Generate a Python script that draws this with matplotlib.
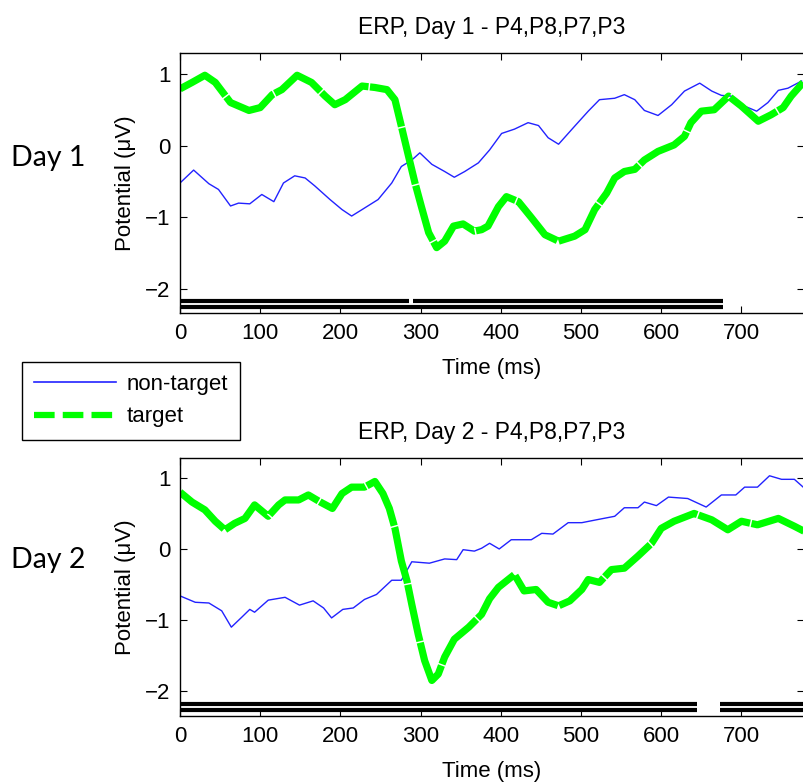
import matplotlib.pyplot as plt
from matplotlib.lines import Line2D

# Day 1 (ms, uV)
t1_target = [0, 15, 31, 44, 63, 86, 100, 115, 127, 146, 164, 181, 193, 206, 227, 243, 258, 268,
             276, 285, 293, 301, 310, 320, 330, 341, 353, 367, 376, 384, 397, 407, 422, 438, 455,
             472, 492, 505, 517, 532, 542, 554, 567, 579, 596, 616, 629, 637, 650, 666, 684, 700,
             721, 737, 752, 762, 777]
v1_target = [0.79, 0.88, 0.98, 0.88, 0.60, 0.49, 0.53, 0.71, 0.78, 0.98, 0.88, 0.69, 0.57, 0.64,
             0.83, 0.81, 0.78, 0.64, 0.27, -0.15, -0.52, -0.85, -1.21, -1.42, -1.33, -1.12, -1.09,
             -1.19, -1.17, -1.12, -0.85, -0.71, -0.78, -1.00, -1.24, -1.33, -1.26, -1.17, -0.89,
             -0.66, -0.45, -0.36, -0.33, -0.20, -0.08, 0.01, 0.13, 0.32, 0.48, 0.50, 0.69, 0.55,
             0.34, 0.43, 0.53, 0.69, 0.88]
t1_nontarget = [0, 17, 36, 48, 63, 73, 87, 102, 117, 129, 143, 156, 168, 187, 202, 214, 227, 247,
                264, 276, 289, 299, 314, 330, 342, 355, 372, 386, 401, 417, 434, 447, 459, 472,
                492, 509, 523, 542, 554, 567, 579, 596, 613, 629, 648, 663, 675, 687, 704, 719,
                733, 746, 758, 775]
v1_nontarget = [-0.52, -0.34, -0.53, -0.61, -0.84, -0.80, -0.81, -0.68, -0.78, -0.52, -0.42, -0.45,
                -0.56, -0.75, -0.89, -0.98, -0.89, -0.75, -0.52, -0.29, -0.20, -0.10, -0.26, -0.36,
                -0.44, -0.36, -0.24, -0.06, 0.17, 0.23, 0.32, 0.28, 0.11, 0.02, 0.27, 0.48, 0.64,
                0.66, 0.71, 0.64, 0.49, 0.42, 0.57, 0.76, 0.87, 0.76, 0.70, 0.69, 0.55, 0.48, 0.60,
                0.77, 0.80, 0.90]

# Day 2
t2_target = [0, 15, 31, 44, 56, 68, 81, 93, 110, 123, 131, 148, 160, 175, 190, 202, 214, 230, 243,
             253, 261, 268, 276, 283, 289, 297, 305, 314, 322, 330, 342, 360, 376, 386, 397, 417,
             429, 444, 459, 472, 486, 501, 509, 523, 538, 554, 571, 588, 600, 616, 641, 663, 683,
             700, 720, 746, 766, 778]
v2_target = [0.80, 0.66, 0.55, 0.39, 0.27, 0.36, 0.43, 0.62, 0.46, 0.62, 0.69, 0.69, 0.76, 0.66,
             0.57, 0.78, 0.87, 0.87, 0.95, 0.78, 0.57, 0.29, -0.17, -0.45, -0.78, -1.20, -1.57,
             -1.85, -1.76, -1.52, -1.27, -1.10, -0.92, -0.70, -0.54, -0.36, -0.59, -0.57, -0.75,
             -0.80, -0.73, -0.57, -0.43, -0.47, -0.29, -0.27, -0.10, 0.08, 0.29, 0.39, 0.50, 0.41,
             0.27, 0.39, 0.34, 0.43, 0.32, 0.25]
t2_nontarget = [0, 19, 36, 52, 64, 77, 87, 93, 110, 131, 149, 166, 179, 189, 203, 216, 230, 245,
                264, 276, 289, 311, 330, 345, 353, 367, 376, 386, 398, 413, 438, 451, 465, 484,
                501, 519, 542, 554, 571, 579, 594, 609, 633, 656, 675, 693, 704, 720, 735, 750,
                766, 777]
v2_nontarget = [-0.66, -0.75, -0.76, -0.87, -1.10, -0.96, -0.85, -0.89, -0.72, -0.68, -0.79, -0.73,
                -0.83, -0.97, -0.85, -0.83, -0.71, -0.64, -0.44, -0.44, -0.18, -0.20, -0.14, -0.15,
                -0.01, -0.03, 0.01, 0.08, 0.00, 0.13, 0.13, 0.22, 0.21, 0.37, 0.37, 0.41, 0.46,
                0.58, 0.58, 0.66, 0.61, 0.73, 0.71, 0.59, 0.76, 0.76, 0.87, 0.87, 1.03, 0.98, 0.98,
                0.87]

# significance bars (ms): two rows under each plot
sig1_row_a = [(0, 285), (291, 677)]
sig1_row_b = [(0, 677)]
sig2_row_a = [(0, 645), (673, 780)]
sig2_row_b = [(0, 645), (673, 780)]

days = ['Day 1', 'Day 2']
titles = ['ERP, Day 1 - P4,P8,P7,P3', 'ERP, Day 2 - P4,P8,P7,P3']

plt.rcParams['font.family'] = ['Liberation Sans', 'DejaVu Sans']
fig = plt.figure(figsize=(8.04, 7.82), dpi=100)

W, H = 804, 782
axes_px = [(53, 313), (458, 716)]   # top, bottom pixel rows
data = [(t1_nontarget, v1_nontarget, t1_target, v1_target, sig1_row_a, sig1_row_b, (-2.33, 1.29)),
        (t2_nontarget, v2_nontarget, t2_target, v2_target, sig2_row_a, sig2_row_b, (-2.35, 1.28))]
day_y = [158, 560]

for i in range(2):
    top, bot = axes_px[i]
    ax = fig.add_axes([180 / W, 1 - bot / H, 1 - 180 / W, (bot - top) / H])
    tn, vn, tt, vt, row_a, row_b, ylim = data[i]
    ax.plot(tn, vn, color='#2222ff', lw=1.0)
    ax.plot(tt, vt, color='#00ff00', lw=5.2, dashes=(8, 0.2))
    for s, e in row_a:
        ax.plot([s, e], [ylim[0] + 0.165, ylim[0] + 0.165], color='black', lw=3.0,
                solid_capstyle='butt')
    for s, e in row_b:
        ax.plot([s, e], [ylim[0] + 0.085, ylim[0] + 0.085], color='black', lw=3.0,
                solid_capstyle='butt')
    ax.set_xlim(0, 778)
    ax.set_ylim(*ylim)
    ax.set_xticks(range(0, 800, 100))
    ax.set_yticks([-2, -1, 0, 1])
    ax.tick_params(direction='in', top=True, right=True, length=5, labelsize=16, pad=7)
    for sp in ax.spines.values():
        sp.set_linewidth(1.0)
    ax.set_xlabel('Time (ms)', fontsize=16, labelpad=10)
    ax.set_ylabel('Potential (\u03bcV)', fontsize=16, labelpad=6)
    ax.set_title(titles[i], fontsize=16.5, pad=14)
    fig.text(11 / W, 1 - day_y[i] / H, days[i], fontsize=20.5, family='Lato', va='center')

handles = [Line2D([], [], color='#2222ff', lw=1.2),
           Line2D([], [], color='#00ff00', lw=4.5, dashes=(3.3, 1.3))]
leg = fig.legend(handles, ['non-target', 'target'], loc='upper left',
                 bbox_to_anchor=(22 / W, 1 - 362 / H), fontsize=16, handlelength=3.7,
                 handletextpad=0.45, borderpad=0.55, labelspacing=0.5, borderaxespad=0,
                 fancybox=False, framealpha=1)
leg.get_frame().set_edgecolor('black')
leg.get_frame().set_linewidth(1.0)

fig.savefig('out.png', dpi=100)
